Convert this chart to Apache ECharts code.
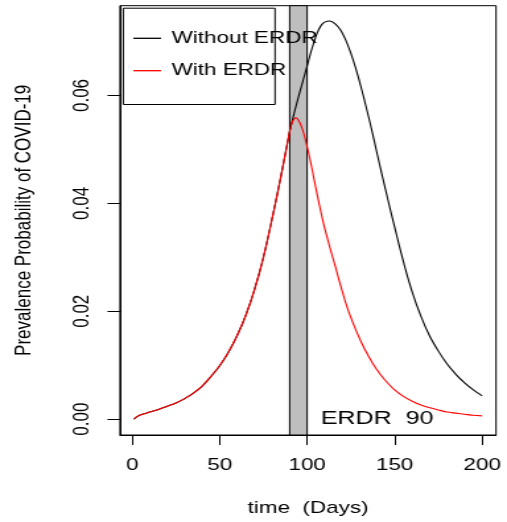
<!DOCTYPE html>
<html><head><meta charset="utf-8">
<script src="https://cdn.jsdelivr.net/npm/echarts@6/dist/echarts.min.js"></script>
<style>
html,body{margin:0;padding:0;background:#fff;overflow:hidden}
#wrap{width:507px;height:522px;overflow:hidden;background:#fff}
#c{width:384px;height:522px;transform:scaleX(1.3203);transform-origin:0 0}
</style>
</head><body><div id="wrap"><div id="c"></div></div>
<script>
// ---- data ----
const days = [1,3,5,10,15,20,25,30,35,40,45,50,55,60,65,70,75,80,85,88,90,91,92,93,94,95,96,97,98,100,102,104,106,108,110,113,116,119,122,125,128,131,134,137,140,143,146,150,155,160,165,170,175,180,185,190,195,200];
const withoutERDR = [0.0000,0.0005,0.0008,0.0013,0.0018,0.0024,0.0030,0.0038,0.0048,0.0061,0.0079,0.0099,0.0124,0.0155,0.0193,0.0241,0.0300,0.0372,0.0450,0.0500,0.0533,0.0547,0.0560,0.0573,0.0585,0.0597,0.0609,0.0620,0.0632,0.0655,0.0679,0.0700,0.0718,0.0730,0.0736,0.0738,0.0733,0.0722,0.0703,0.0678,0.0648,0.0613,0.0575,0.0535,0.0492,0.0450,0.0409,0.0356,0.0292,0.0236,0.0191,0.0154,0.0126,0.0102,0.0083,0.0067,0.0054,0.0043];
const withERDR = [0.0000,0.0005,0.0008,0.0013,0.0018,0.0024,0.0030,0.0038,0.0048,0.0061,0.0079,0.0099,0.0124,0.0155,0.0193,0.0241,0.0300,0.0372,0.0450,0.0500,0.0533,0.0546,0.0554,0.0558,0.0558,0.0554,0.0548,0.0540,0.0530,0.0505,0.0476,0.0444,0.0412,0.0382,0.0354,0.0318,0.0284,0.0249,0.0216,0.0188,0.0164,0.0142,0.0123,0.0106,0.0091,0.0078,0.0067,0.0054,0.0042,0.0033,0.0026,0.0021,0.0017,0.0013,0.0011,0.0009,0.0007,0.0006];
const xTicks = [0,50,100,150,200];
const yTicks = [0,0.02,0.04,0.06];
const seriesNames = ['Without ERDR','With ERDR'];
const bandRange = [90,100];
const noteText = 'ERDR  90';
const notePos = [140,0];
const xName = 'time  (Days)';
const yName = 'Prevalence Probability of COVID-19';

const X_MIN = -6.96, X_MAX = 207.96, Y_MIN = -0.00295, Y_MAX = 0.07665;
const FONT = 'Liberation Sans, Arial, Helvetica, sans-serif';
const pairs = (ys) => days.map((d,i)=>[d, ys[i]]);

const chart = echarts.init(document.getElementById('c'), null, {renderer:'canvas'});
chart.setOption({
  animation:false,
  backgroundColor:'#fff',
  textStyle:{fontFamily:FONT, color:'#000'},
  grid:{left:90.9, right:8.3, top:5.7, bottom:85.3, show:true, borderColor:'#000', borderWidth:1, containLabel:false},
  xAxis:{
    type:'value', min:X_MIN, max:X_MAX,
    name:xName, nameLocation:'middle', nameGap:65,
    nameTextStyle:{fontSize:17, color:'#000', fontFamily:FONT},
    axisLine:{show:true, onZero:false, lineStyle:{color:'#000', width:1}},
    splitLine:{show:false},
    axisTick:{show:true, length:10, customValues:xTicks, lineStyle:{color:'#000', width:1}},
    axisLabel:{customValues:xTicks, fontSize:17, color:'#000', margin:22, fontFamily:FONT}
  },
  yAxis:{
    type:'value', min:Y_MIN, max:Y_MAX,
    name:yName, nameLocation:'middle', nameGap:64,
    nameTextStyle:{fontSize:17, color:'#000', fontFamily:FONT},
    axisLine:{show:true, onZero:false, lineStyle:{color:'#000', width:1}},
    splitLine:{show:false},
    axisTick:{show:true, length:9.5, customValues:yTicks, lineStyle:{color:'#000', width:1}},
    axisLabel:{customValues:yTicks, rotate:90, fontSize:17, color:'#000', margin:20, fontFamily:FONT,
      formatter:(v)=>Number(v).toFixed(2)}
  },
  legend:{
    data:seriesNames, orient:'vertical', left:101, top:29.8, padding:0,
    icon:'rect', itemWidth:21, itemHeight:1.3, itemGap:15.4, selectedMode:false,
    textStyle:{fontSize:17, lineHeight:17, color:'#000', fontFamily:FONT, padding:[0,0,0,3]}
  },
  graphic:[{type:'rect', left:90.9, top:5.7, silent:true, z:5,
    shape:{width:114.9, height:96.3}, style:{fill:'none', stroke:'#000', lineWidth:1}}],
  series:[
    {name:seriesNames[0], type:'line', data:pairs(withoutERDR), symbol:'none', smooth:0.3,
     lineStyle:{color:'#000', width:1.1}, itemStyle:{color:'#000'}, z:2,
     markArea:{silent:true, z:1, itemStyle:{color:'#bebebe', borderColor:'#000', borderWidth:1, opacity:1},
       data:[[{xAxis:bandRange[0]},{xAxis:bandRange[1]}]]}},
    {name:seriesNames[1], type:'line', data:pairs(withERDR), symbol:'none', smooth:0.3,
     lineStyle:{color:'#ff0000', width:1.1}, itemStyle:{color:'#ff0000'}, z:3,
     markPoint:{silent:true, symbol:'circle', symbolSize:1, itemStyle:{color:'rgba(0,0,0,0)'},
       label:{show:true, position:'inside', formatter:noteText, fontSize:19, color:'#000', fontFamily:FONT},
       data:[{coord:notePos}]}}
  ]
});
</script>
</body></html>
